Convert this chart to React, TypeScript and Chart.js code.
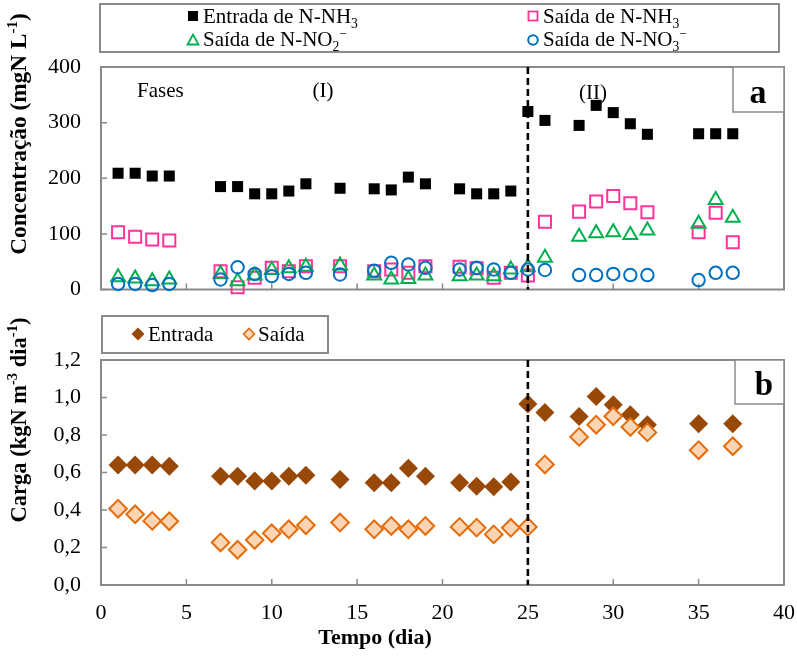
import React, { useEffect, useRef } from 'react';
import { Chart, registerables } from 'chart.js';

Chart.register(...registerables);

const SERIF = '"Liberation Serif", "Times New Roman", Times, serif';
const GRAY = '#8a8a8a';

// ---------- Panel (a): concentrations (mgN/L) ----------
const diasA = [1, 2, 3, 4, 7, 8, 9, 10, 11, 12, 14, 16, 17, 18, 19, 21, 22, 23, 24, 25, 26, 28, 29, 30, 31, 32, 35, 36, 37];
const entradaNH3 = [209, 209, 204, 204, 185, 185, 172, 172, 177, 190, 182, 181, 179, 202, 190, 181, 172, 172, 177, 320, 304, 295, 331, 318, 298, 279, 280, 280, 280];
const saidaNH3 = [103, 95, 90, 88, 33, 4, 21, 39, 33, 42, 42, 33, 36, 30, 42, 41, 38, 21, 30, 25, 122, 140, 158, 168, 155, 139, 103, 138, 85];
const saidaNO2 = [22, 20, 15, 18, 28, 15, 25, 35, 38, 41, 43, 25, 18, 19, 25, 24, 25, 24, 36, 40, 57, 95, 101, 103, 98, 106, 118, 161, 129];
const saidaNO3 = [10, 10, 8, 10, 18, 40, 28, 24, 28, 30, 27, 34, 48, 45, 39, 36, 39, 36, 30, 36, 35, 26, 26, 28, 26, 26, 17, 30, 30];

// ---------- Panel (b): loads (kgN m-3 dia-1) ----------
const diasB = [1, 2, 3, 4, 7, 8, 9, 10, 11, 12, 14, 16, 17, 18, 19, 21, 22, 23, 24, 25, 26, 28, 29, 30, 31, 32, 35, 37];
const cargaEntrada = [0.64, 0.64, 0.64, 0.633, 0.58, 0.58, 0.555, 0.555, 0.58, 0.586, 0.563, 0.545, 0.545, 0.623, 0.58, 0.545, 0.527, 0.524, 0.549, 0.966, 0.92, 0.899, 1.005, 0.961, 0.908, 0.855, 0.86, 0.86];
const cargaSaida = [0.407, 0.377, 0.342, 0.34, 0.227, 0.188, 0.24, 0.276, 0.297, 0.319, 0.333, 0.297, 0.315, 0.297, 0.315, 0.31, 0.306, 0.27, 0.305, 0.31, 0.643, 0.79, 0.855, 0.9, 0.843, 0.814, 0.719, 0.74];

const inicioFaseII = 25;
const xMin = 0, xMax = 40, xStep = 5;
const yAMax = 400, yAStep = 100;
const yBMax = 1.2, yBStep = 0.2;

type Seg = { t: string; k?: 'sub' | 'sup' };

const fnt = (size: number, bold: boolean) => `${bold ? 'bold ' : ''}${size}px ${SERIF}`;

function segsWidth(ctx: CanvasRenderingContext2D, segs: Seg[], size: number, bold: boolean) {
  let w = 0;
  for (const s of segs) {
    ctx.font = fnt(s.k ? size * 0.65 : size, bold);
    w += ctx.measureText(s.t).width;
  }
  return w;
}

function drawSegs(ctx: CanvasRenderingContext2D, segs: Seg[], x: number, y: number, size: number, bold: boolean, align: 'left' | 'center' = 'left') {
  let cx = align === 'center' ? x - segsWidth(ctx, segs, size, bold) / 2 : x;
  ctx.textAlign = 'left';
  ctx.textBaseline = 'alphabetic';
  ctx.fillStyle = '#000';
  for (const s of segs) {
    const sz = s.k ? size * 0.65 : size;
    ctx.font = fnt(sz, bold);
    const dy = s.k === 'sub' ? size * 0.22 : s.k === 'sup' ? -size * 0.4 : 0;
    ctx.fillText(s.t, cx, y + dy);
    cx += ctx.measureText(s.t).width;
  }
}

function drawRotated(ctx: CanvasRenderingContext2D, segs: Seg[], bx: number, cy: number, size: number) {
  ctx.save();
  ctx.translate(bx, cy);
  ctx.rotate(-Math.PI / 2);
  drawSegs(ctx, segs, 0, 0, size, true, 'center');
  ctx.restore();
}

function drawFrame(chart: any) {
  const { ctx, chartArea: a, scales } = chart;
  ctx.save();
  ctx.strokeStyle = GRAY;
  ctx.lineWidth = 2;
  ctx.strokeRect(a.left, a.top, a.right - a.left, a.bottom - a.top);
  ctx.lineWidth = 1.5;
  ctx.beginPath();
  scales.y.ticks.forEach((t: any) => {
    const py = scales.y.getPixelForValue(t.value);
    ctx.moveTo(a.left, py);
    ctx.lineTo(a.left + 6, py);
  });
  scales.x.ticks.forEach((t: any) => {
    const px = scales.x.getPixelForValue(t.value);
    ctx.moveTo(px, a.bottom);
    ctx.lineTo(px, a.bottom - 6);
  });
  ctx.stroke();
  ctx.restore();
}

function drawPhaseLine(chart: any) {
  const { ctx, chartArea: a, scales } = chart;
  const px = scales.x.getPixelForValue(inicioFaseII);
  ctx.save();
  ctx.strokeStyle = '#000';
  ctx.lineWidth = 2.6;
  ctx.setLineDash([7, 4]);
  ctx.beginPath();
  ctx.moveTo(px, a.top);
  ctx.lineTo(px, a.bottom);
  ctx.stroke();
  ctx.restore();
}

function drawCornerLabel(ctx: CanvasRenderingContext2D, x0: number, y0: number, x1: number, y1: number, label: string, tx: number, ty: number, size: number) {
  ctx.save();
  ctx.fillStyle = '#fff';
  ctx.fillRect(x0, y0, x1 - x0, y1 - y0);
  ctx.strokeStyle = GRAY;
  ctx.lineWidth = 1.5;
  ctx.strokeRect(x0, y0, x1 - x0, y1 - y0);
  ctx.fillStyle = '#000';
  ctx.font = fnt(size, true);
  ctx.textAlign = 'center';
  ctx.textBaseline = 'alphabetic';
  ctx.fillText(label, tx, ty);
  ctx.restore();
}

const topDecor = {
  id: 'topDecor',
  beforeDatasetsDraw(chart: any) {
    drawFrame(chart);
  },
  afterDatasetsDraw(chart: any) {
    drawPhaseLine(chart);
  },
  afterDraw(chart: any) {
    const ctx: CanvasRenderingContext2D = chart.ctx;
    ctx.save();
    // legend box
    ctx.strokeStyle = GRAY;
    ctx.lineWidth = 2;
    ctx.strokeRect(100, 4, 679, 48);
    // markers
    ctx.fillStyle = '#000';
    ctx.fillRect(188, 11, 10, 10);
    ctx.strokeStyle = '#ff3399';
    ctx.lineWidth = 1.8;
    ctx.strokeRect(528.5, 11.5, 9, 9);
    ctx.strokeStyle = '#00b050';
    ctx.beginPath();
    ctx.moveTo(193, 34.5);
    ctx.lineTo(198.5, 44.5);
    ctx.lineTo(187.5, 44.5);
    ctx.closePath();
    ctx.stroke();
    ctx.strokeStyle = '#0070c0';
    ctx.lineWidth = 2;
    ctx.beginPath();
    ctx.arc(533, 40, 4.8, 0, Math.PI * 2);
    ctx.stroke();
    // legend text
    drawSegs(ctx, [{ t: 'Entrada de N-NH' }, { t: '3', k: 'sub' }], 203, 23, 21, false);
    drawSegs(ctx, [{ t: 'Saída de N-NH' }, { t: '3', k: 'sub' }], 543, 23, 21, false);
    drawSegs(ctx, [{ t: 'Saída de N-NO' }, { t: '2', k: 'sub' }, { t: '−', k: 'sup' }], 203, 46, 21, false);
    drawSegs(ctx, [{ t: 'Saída de N-NO' }, { t: '3', k: 'sub' }, { t: '−', k: 'sup' }], 543, 46, 21, false);
    // phase annotations
    drawSegs(ctx, [{ t: 'Fases' }], 137, 97, 21, false);
    drawSegs(ctx, [{ t: '(I)' }], 323, 97, 21, false, 'center');
    drawSegs(ctx, [{ t: '(II)' }], 593, 99, 21, false, 'center');
    // y title
    drawRotated(ctx, [{ t: 'Concentração (mgN L' }, { t: '-1', k: 'sup' }, { t: ')' }], 26, 134, 23.3);
    ctx.restore();
    const a = chart.chartArea;
    drawCornerLabel(ctx, 733, a.top, a.right, 112, 'a', 758, 103, 34);
  },
};

const bottomDecor = {
  id: 'bottomDecor',
  beforeDatasetsDraw(chart: any) {
    drawFrame(chart);
  },
  afterDatasetsDraw(chart: any) {
    drawPhaseLine(chart);
  },
  afterDraw(chart: any) {
    const ctx: CanvasRenderingContext2D = chart.ctx;
    ctx.save();
    // legend box (page y 316..353 -> canvas 16..53)
    ctx.strokeStyle = GRAY;
    ctx.lineWidth = 2;
    ctx.strokeRect(102, 16, 226, 37);
    const diamond = (cx: number, cy: number, r: number) => {
      ctx.beginPath();
      ctx.moveTo(cx - r, cy);
      ctx.lineTo(cx, cy - r);
      ctx.lineTo(cx + r, cy);
      ctx.lineTo(cx, cy + r);
      ctx.closePath();
    };
    ctx.fillStyle = '#984807';
    diamond(138, 34, 6.5);
    ctx.fill();
    ctx.fillStyle = '#fcd5b4';
    ctx.strokeStyle = '#e46c0a';
    ctx.lineWidth = 1.6;
    diamond(249, 34, 5.5);
    ctx.fill();
    ctx.stroke();
    drawSegs(ctx, [{ t: 'Entrada' }], 148, 41, 21, false);
    drawSegs(ctx, [{ t: 'Saída' }], 258, 41, 21, false);
    // titles
    drawRotated(ctx, [{ t: 'Carga (kgN m' }, { t: '-3', k: 'sup' }, { t: ' dia' }, { t: '-1', k: 'sup' }, { t: ')' }], 26, 120, 22.5);
    drawSegs(ctx, [{ t: 'Tempo (dia)' }], 375, 344, 22, true, 'center');
    ctx.restore();
    const a = chart.chartArea;
    drawCornerLabel(ctx, 735, a.top, a.right, 104, 'b', 764, 95, 33);
  },
};

const pts = (xs: number[], ys: number[]) => xs.map((x, i) => ({ x, y: ys[i] }));

const tickFont = { family: SERIF, size: 22 };

const fitX = (h: number) => (s: any) => {
  s.height = h;
  s.paddingLeft = 0;
  s.paddingRight = 0;
  s.paddingTop = 0;
  s.paddingBottom = 0;
};
const fitY = (s: any) => {
  s.width = 101;
  s.paddingLeft = 0;
  s.paddingRight = 0;
  s.paddingTop = 0;
  s.paddingBottom = 0;
};

export default function App() {
  const topRef = useRef<HTMLCanvasElement>(null);
  const botRef = useRef<HTMLCanvasElement>(null);

  useEffect(() => {
    const none = 'rgba(0,0,0,0)';
    const top = new Chart(topRef.current as HTMLCanvasElement, {
      type: 'scatter',
      data: {
        datasets: [
          { label: 'Entrada de N-NH3', data: pts(diasA, entradaNH3), pointStyle: 'rect', pointRadius: 7.8, backgroundColor: '#000', borderColor: '#000', borderWidth: 0, order: 3, clip: false },
          { label: 'Saída de N-NH3', data: pts(diasA, saidaNH3), pointStyle: 'rect', pointRadius: 8.5, backgroundColor: none, borderColor: '#ff3399', borderWidth: 2, order: 2, clip: false },
          { label: 'Saída de N-NO2-', data: pts(diasA, saidaNO2), pointStyle: 'triangle', pointRadius: 8, backgroundColor: none, borderColor: '#00b050', borderWidth: 2, order: 1, clip: false },
          { label: 'Saída de N-NO3-', data: pts(diasA, saidaNO3), pointStyle: 'circle', pointRadius: 6.2, backgroundColor: none, borderColor: '#0070c0', borderWidth: 2, order: 0, clip: false },
        ] as any,
      },
      options: {
        responsive: false,
        animation: false,
        events: [],
        layout: { padding: { left: 0, right: 13, top: 67, bottom: 0 } },
        plugins: { legend: { display: false }, tooltip: { enabled: false } },
        scales: {
          x: {
            type: 'linear', min: xMin, max: xMax,
            ticks: { display: false, stepSize: xStep },
            grid: { display: false, drawTicks: false },
            border: { display: false },
            afterFit: fitX(9),
          },
          y: {
            min: 0, max: yAMax,
            ticks: { stepSize: yAStep, padding: 20, color: '#000', font: tickFont },
            grid: { display: false, drawTicks: false },
            border: { display: false },
            afterFit: fitY,
          },
        },
      } as any,
      plugins: [topDecor],
    });

    const bot = new Chart(botRef.current as HTMLCanvasElement, {
      type: 'scatter',
      data: {
        datasets: [
          { label: 'Entrada', data: pts(diasB, cargaEntrada), pointStyle: 'rectRot', pointRadius: 9.5, backgroundColor: '#984807', borderColor: '#984807', borderWidth: 0, order: 1, clip: false },
          { label: 'Saída', data: pts(diasB, cargaSaida), pointStyle: 'rectRot', pointRadius: 8.8, backgroundColor: '#fcd5b4', borderColor: '#e46c0a', borderWidth: 2, order: 0, clip: false },
        ] as any,
      },
      options: {
        responsive: false,
        animation: false,
        events: [],
        layout: { padding: { left: 0, right: 13, top: 60, bottom: 0 } },
        plugins: { legend: { display: false }, tooltip: { enabled: false } },
        scales: {
          x: {
            type: 'linear', min: xMin, max: xMax,
            ticks: { stepSize: xStep, padding: 15, color: '#000', font: tickFont, maxRotation: 0 },
            grid: { display: false, drawTicks: false },
            border: { display: false },
            afterFit: fitX(74),
          },
          y: {
            min: 0, max: yBMax,
            ticks: {
              stepSize: yBStep, padding: 20, color: '#000', font: tickFont,
              callback: (v: any) => Number(v).toFixed(1).replace('.', ','),
            },
            grid: { display: false, drawTicks: false },
            border: { display: false },
            afterFit: fitY,
          },
        },
      } as any,
      plugins: [bottomDecor],
    });

    return () => {
      top.destroy();
      bot.destroy();
    };
  }, []);

  return (
    <div style={{ position: 'absolute', left: 0, top: 0, width: 797, height: 659, background: '#fff' }}>
      <canvas ref={topRef} width={797} height={300} style={{ position: 'absolute', left: 0, top: 0 }} />
      <canvas ref={botRef} width={797} height={359} style={{ position: 'absolute', left: 0, top: 300 }} />
    </div>
  );
}
